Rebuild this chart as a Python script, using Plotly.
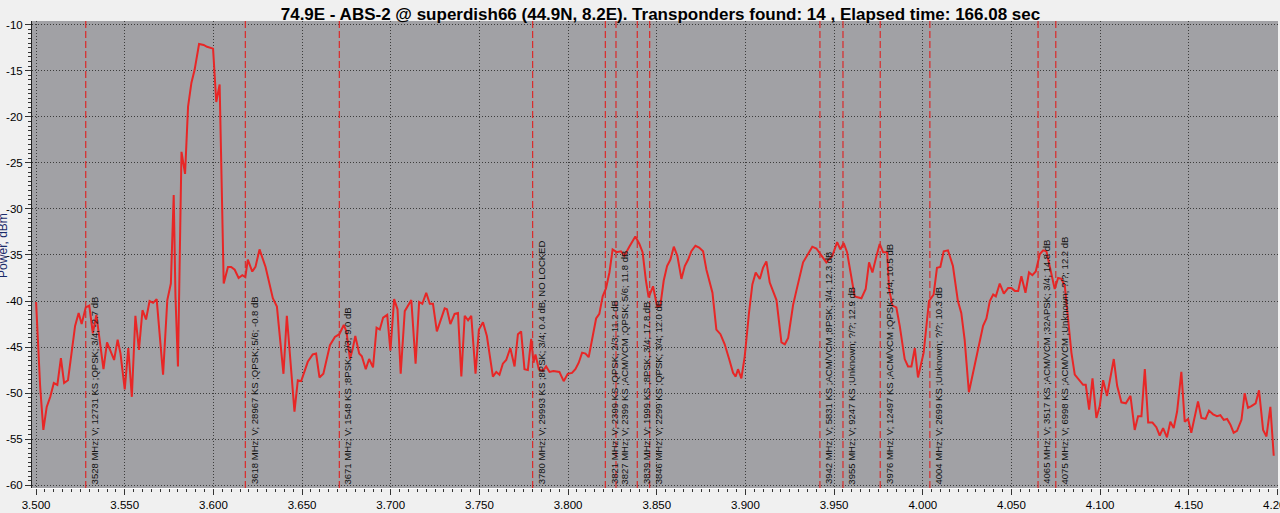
import numpy as np
import plotly.graph_objects as go

# Spectrum samples (frequency in MHz, power in dB)
freq_mhz = [
    3500, 3502.3, 3504.1, 3506, 3508, 3510, 3512, 3514, 3515.8, 3518, 3522, 3524, 3525.7, 3528, 3530,
    3532, 3534, 3538, 3540, 3544, 3546, 3547.6, 3550, 3552, 3554, 3556, 3558, 3560, 3562, 3564,
    3566, 3568, 3571.6, 3574, 3576, 3577.6, 3578.6, 3580, 3582, 3584, 3585.7, 3587.6, 3589.4, 3591.9, 3594.5,
    3596.4, 3599.8, 3601.6, 3603.5, 3605.8, 3608.2, 3610, 3612, 3614.2, 3616.3, 3618, 3619.4, 3621.9, 3623.7,
    3626, 3629.4, 3633.5, 3635.8, 3639.5, 3641.4, 3645.7, 3647.6, 3649.5, 3653.2, 3656, 3657.9, 3659.8, 3662,
    3664.4, 3665.7, 3668.5, 3671, 3673.5, 3675, 3677, 3678.4, 3680, 3682.2, 3683.7, 3685.9, 3687.8, 3690,
    3692, 3693.8, 3695.7, 3698, 3699.8, 3701.9, 3703.8, 3705.6, 3707.9, 3711.6, 3714, 3716, 3717.8, 3720,
    3722, 3723.8, 3726, 3730.4, 3731.7, 3733.6, 3736, 3737.9, 3739.8, 3741.7, 3743.6, 3745.4, 3747.8, 3749.7,
    3752, 3754.2, 3757.6, 3759.5, 3761.3, 3763.2, 3765.1, 3767.4, 3769.8, 3771.7, 3773.5, 3775.4, 3777.3, 3779.2,
    3780.5, 3781.6, 3783.5, 3785.7, 3787.6, 3789.5, 3791.7, 3795.1, 3797.5, 3799.8, 3802.2, 3804.1, 3806, 3807.9,
    3809.8, 3811.6, 3813.9, 3815.8, 3817.6, 3819.5, 3821.4, 3823.3, 3825.1, 3827.4, 3829.8, 3831.7, 3834.5, 3837.9,
    3840.2, 3842, 3843.9, 3845.4, 3847.9, 3850.2, 3852, 3853.9, 3855.8, 3857.7, 3859.6, 3861.6, 3863.9, 3865.8,
    3867.7, 3869.5, 3871.8, 3873.9, 3876.1, 3878, 3881.4, 3883.6, 3885.9, 3888.3, 3890.8, 3893, 3894.5, 3895.8,
    3897.7, 3899.6, 3902, 3903.9, 3905.8, 3908.1, 3909.9, 3911.8, 3913.7, 3917.5, 3920.3, 3922.2, 3924.1, 3926.9,
    3928.7, 3932.5, 3935.3, 3937.7, 3940, 3942.8, 3945.6, 3949, 3951.7, 3953.5, 3955.4, 3957.3, 3959.7, 3961.6,
    3965.4, 3967.8, 3969.7, 3971.6, 3973.9, 3975.7, 3977.6, 3979.9, 3981, 3982.9, 3985.1, 3987, 3989.8, 3991.7,
    3993.6, 3995.5, 3997.3, 4000.5, 4003.5, 4006.1, 4008, 4009.9, 4011.8, 4014.2, 4017, 4019.8, 4021.7, 4023.6,
    4026, 4030.3, 4034, 4035.9, 4037.8, 4039.7, 4041.2, 4043.4, 4045.7, 4048.1, 4050, 4051.9, 4053.8, 4055.6,
    4057.9, 4059.9, 4061.8, 4063.7, 4066, 4067.9, 4069.7, 4072, 4074.4, 4076.3, 4078.2, 4080.1, 4081.9, 4083.8,
    4085.7, 4088.1, 4090.4, 4091.9, 4093.8, 4095.7, 4097.9, 4099.8, 4101.7, 4103.9, 4107.7, 4109.6, 4112, 4114.5,
    4117.1, 4119.5, 4121.4, 4123.3, 4125.2, 4127.1, 4129.5, 4131.7, 4133.6, 4135.5, 4137.7, 4139.6, 4141.5, 4143.4,
    4145.8, 4147.7, 4149.6, 4151.4, 4153.3, 4155.2, 4157.1, 4159.5, 4161.4, 4163.7, 4165.9, 4167.8, 4169.7, 4171.6,
    4173.4, 4175.3, 4177.2, 4179.7, 4181.5, 4183.4, 4185.3, 4187.7, 4189.6, 4191.9, 4193.8, 4196, 4197.9,
]
power_db = [
    -40.1, -49.3, -54.0, -51.5, -50.4, -48.9, -49.1, -46.2, -48.9, -48.6, -42.7, -41.3, -42.5, -40.7, -40.5,
    -43.5, -41.5, -47.4, -44.5, -46.4, -44.2, -45.7, -49.6, -45.1, -50.4, -41.6, -45.3, -41.0, -42.0, -40.0,
    -40.2, -39.8, -48.0, -39.9, -38.1, -28.5, -39.5, -47.1, -23.8, -26.2, -18.9, -16.3, -14.9, -12.1, -12.2,
    -12.4, -12.6, -18.4, -16.5, -38.1, -36.3, -36.3, -36.6, -37.5, -37.2, -37.4, -35.5, -36.8, -36.3,
    -34.4, -36.3, -39.7, -40.6, -47.9, -41.6, -52.0, -48.6, -48.7, -46.6, -45.8, -45.7, -48.3, -47.9,
    -45.7, -44.8, -43.9, -43.6, -42.6, -43.3, -46.3, -45.3, -43.8, -45.7, -46.0, -47.4, -46.3, -47.2,
    -42.9, -43.1, -41.8, -41.5, -45.4, -39.8, -40.9, -47.9, -41.1, -39.9, -46.8, -40.1, -40.3, -39.1,
    -40.3, -40.3, -43.3, -40.8, -40.9, -42.5, -41.4, -41.3, -48.2, -41.6, -42.1, -41.6, -47.9, -43.1,
    -42.3, -43.8, -48.2, -47.7, -48.0, -46.8, -46.4, -45.1, -47.1, -43.6, -43.3, -47.4, -47.5, -44.1,
    -46.7, -45.8, -47.4, -47.6, -47.1, -47.7, -47.6, -47.7, -48.7, -47.9, -47.8, -47.4, -46.7, -45.6,
    -45.7, -46.1, -43.8, -41.9, -41.4, -39.5, -38.6, -36.9, -34.4, -34.7, -34.6, -35.1, -34.1, -33.0,
    -33.8, -34.7, -37.8, -39.6, -38.4, -40.6, -40.5, -37.8, -36.2, -35.5, -34.1, -35.1, -37.6, -36.2,
    -35.5, -34.6, -34.0, -34.2, -34.6, -36.6, -39.1, -43.1, -43.6, -44.7, -46.3, -47.8, -48.2, -47.4,
    -48.4, -46.0, -41.3, -38.2, -36.9, -37.6, -36.4, -35.7, -38.0, -39.9, -44.5, -44.7, -44.0, -40.4,
    -38.9, -35.8, -34.9, -34.1, -34.3, -35.1, -35.8, -35.1, -33.6, -34.4, -33.7, -34.7, -37.3, -39.5,
    -39.7, -38.7, -35.8, -36.9, -35.1, -33.8, -34.7, -34.7, -38.7, -40.5, -40.7, -42.7, -46.3, -47.1,
    -47.1, -45.1, -48.3, -45.6, -40.0, -39.3, -36.4, -36.3, -34.6, -34.5, -36.2, -40.0, -41.3, -44.2,
    -49.9, -46.0, -42.7, -41.9, -40.0, -39.3, -39.5, -38.1, -39.2, -38.6, -38.6, -38.9, -38.9, -37.3,
    -39.1, -36.9, -37.2, -36.8, -34.9, -34.5, -34.6, -36.6, -38.7, -37.5, -37.6, -38.4, -41.8, -45.6,
    -48.0, -48.5, -49.1, -49.1, -51.8, -48.4, -52.7, -51.4, -48.6, -50.3, -46.3, -49.2, -51.0, -51.1,
    -50.3, -54.0, -52.5, -52.5, -47.4, -53.2, -53.2, -53.7, -54.6, -53.8, -54.8, -53.1, -53.8, -52.0,
    -47.7, -53.1, -52.8, -54.3, -52.5, -50.9, -52.7, -52.8, -51.9, -52.3, -52.5, -52.4, -52.9, -52.8,
    -53.4, -54.3, -54.1, -52.9, -50.0, -51.6, -51.4, -51.1, -49.7, -54.0, -54.7, -51.5, -56.8,
]

# Transponders found
tp_freq_mhz = [3528, 3618, 3671, 3780, 3821, 3827, 3839, 3846, 3942, 3955, 3976, 4004, 4065, 4075]
tp_labels = [
    "3528 MHz; V; 12731 KS ;QPSK; 3/4; -2.7 dB",
    "3618 MHz; V; 28967 KS ;QPSK; 5/6; -0.8 dB",
    "3671 MHz; V; 1548 KS ;8PSK; 2/3; 9.0 dB",
    "3780 MHz; V; 29993 KS ;8PSK; 3/4; 0.4 dB, NO LOCKED",
    "3821 MHz; V; 2399 KS ;QPSK; 2/3; 11.2 dB",
    "3827 MHz; V; 2399 KS ;ACM/VCM ;QPSK; 5/6; 11.8 dB",
    "3839 MHz; V; 1999 KS ;8PSK; 3/4; 17.8 dB",
    "3846 MHz; V; 2299 KS ;QPSK; 3/4; 12.0 dB",
    "3942 MHz; V; 5831 KS ;ACM/VCM ;8PSK; 3/4; 12.3 dB",
    "3955 MHz; V; 9247 KS ;Unknown; ?/?; 12.9 dB",
    "3976 MHz; V; 12497 KS ;ACM/VCM ;QPSK; 1/4; 10.5 dB",
    "4004 MHz; V; 2699 KS ;Unknown; ?/?; 10.3 dB",
    "4065 MHz; V; 3517 KS ;ACM/VCM ;32APSK; 3/4; 14.8 dB",
    "4075 MHz; V; 6998 KS ;ACM/VCM ;Unknown; ?/?; 12.2 dB",
]

title_text = "74.9E - ABS-2 @ superdish66 (44.9N, 8.2E). Transponders found: 14 , Elapsed time: 166.08 sec"
x_ticks = [3.50, 3.55, 3.60, 3.65, 3.70, 3.75, 3.80, 3.85, 3.90, 3.95, 4.00, 4.05, 4.10, 4.15, 4.20]
y_ticks = [-10, -15, -20, -25, -30, -35, -40, -45, -50, -55, -60]

x_ghz = np.array(freq_mhz) / 1000.0
tp_ghz = np.array(tp_freq_mhz) / 1000.0

fig = go.Figure()
fig.add_trace(go.Scatter(
    x=x_ghz, y=power_db, mode="lines",
    line=dict(color="rgb(232,38,38)", width=2),
    hoverinfo="x+y", showlegend=False,
))

for f, lab in zip(tp_ghz, tp_labels):
    fig.add_shape(type="line", xref="x", yref="paper", x0=f, x1=f, y0=0, y1=1,
                  line=dict(color="rgb(218,42,42)", width=1.2, dash="7px,3px"), layer="above")
    fig.add_annotation(x=f, y=-60.1, xref="x", yref="y", text=lab, textangle=-90,
                       showarrow=False, xanchor="left", yanchor="bottom", xshift=1,
                       font=dict(family="Liberation Sans, Arial, sans-serif", size=9.5, color="#111111"))

fig.add_annotation(xref="paper", yref="paper", x=-0.0235, y=0.52, text="Power, dBm",
                   textangle=-90, showarrow=False, xanchor="center", yanchor="middle",
                   font=dict(family="Liberation Sans, Arial, sans-serif", size=12, color="#1a2a6a"))

axis_font = dict(family="Liberation Sans, Arial, sans-serif", size=11.5, color="#000000")
fig.update_layout(
    width=1280, height=513,
    template="none",
    paper_bgcolor="#f0f0f0",
    plot_bgcolor="#a1a1a5",
    margin=dict(l=32, r=2, t=21, b=25, pad=0),
    title=dict(text="<b>" + title_text + "</b>", x=0.516, xanchor="center", y=0.985, yanchor="top",
               font=dict(family="Liberation Sans, Arial, sans-serif", size=17, color="#000000")),
    xaxis=dict(range=[3.4977, 4.2003], tickvals=x_ticks, ticktext=["%.3f" % t for t in x_ticks],
               showgrid=True, gridcolor="#3c3c3c", griddash="1px,2px", gridwidth=1,
               ticks="outside", ticklen=6, tickcolor="#333333", tickfont=axis_font,
               ticklabeloverflow="allow",
               showline=True, linecolor="#ffffff", linewidth=1, zeroline=False, automargin=False,
               minor=dict(dtick=0.005, tick0=3.5, ticks="outside", ticklen=3, tickcolor="#333333", showgrid=False)),
    yaxis=dict(range=[-60.3, -9.6], tickvals=y_ticks, ticktext=[str(t) for t in y_ticks],
               showgrid=True, gridcolor="#3c3c3c", griddash="1px,2px", gridwidth=1,
               ticks="outside", ticklen=6, tickcolor="#333333", tickfont=axis_font,
               showline=True, linecolor="#222222", linewidth=1, zeroline=False, automargin=False,
               minor=dict(dtick=0.5, tick0=-60, ticks="outside", ticklen=3, tickcolor="#333333", showgrid=False)),
)

fig.write_html("out.html", config={"displayModeBar": False},
               post_script="document.body.style.margin='0';document.body.style.overflow='hidden';")
